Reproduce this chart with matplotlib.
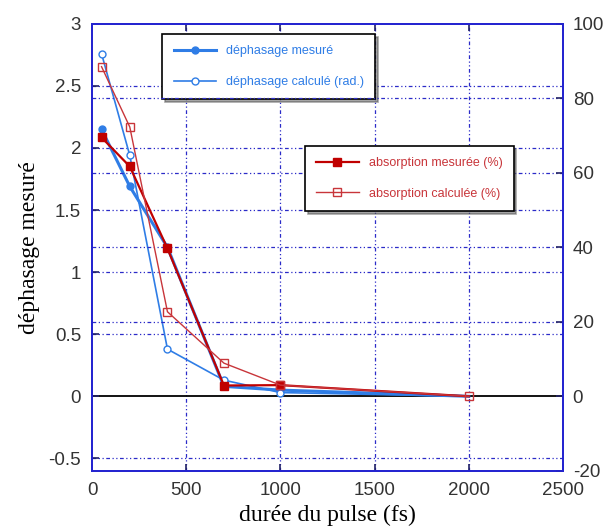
import matplotlib
matplotlib.use("Agg")
import matplotlib.pyplot as plt

plt.rcParams["font.family"] = ["Liberation Sans", "DejaVu Sans"]
plt.rcParams["axes.unicode_minus"] = False

# pulse duration (fs)
durees = [50, 200, 400, 700, 1000, 2000]

# phase shift (rad), left axis
dephasage_mesure = [2.15, 1.69, 1.20, 0.08, 0.05, 0.0]
dephasage_calcule = [2.76, 1.94, 0.38, 0.13, 0.03, 0.0]

# absorption (%), right axis
absorption_mesuree = [69.5, 61.7, 39.7, 2.9, 3.0, 0.0]
absorption_calculee = [88.5, 72.3, 22.7, 8.9, 3.0, 0.0]

x_ticks = [0, 500, 1000, 1500, 2000, 2500]
left_ticks = [-0.5, 0, 0.5, 1, 1.5, 2, 2.5, 3]
right_ticks = [-20, 0, 20, 40, 60, 80, 100]

blue = "#2f7de6"
red_dark = "#c00000"
red = "#c8353a"
frame = "#2323d0"
grid_kw = dict(color="#2b2bc8", linewidth=0.9, linestyle=(0, (3, 2, 1, 2, 1, 2)))

fig = plt.figure(figsize=(6.06, 5.29), dpi=100, facecolor="white")
ax = fig.add_axes([0.152, 0.110, 0.777, 0.845])
ax2 = ax.twinx()

ax.set_xlim(0, 2500)
ax.set_ylim(-0.6, 3.0)
ax2.set_ylim(-20, 100)

ax.set_xticks(x_ticks)
ax.set_yticks(left_ticks)
ax.set_yticklabels(["-0.5", "0", "0.5", "1", "1.5", "2", "2.5", "3"])
ax2.set_yticks(right_ticks)

# grid from both axes
for xv in x_ticks[1:-1]:
    ax.axvline(xv, zorder=0, **grid_kw)
for yv in left_ticks:
    if yv not in (0, 3):
        ax.axhline(yv, zorder=0, **grid_kw)
for yv in right_ticks:
    if yv not in (-20, 0, 100):
        ax2.axhline(yv, zorder=0, **grid_kw)
ax.axhline(0, color="black", linewidth=1.3, zorder=1)

ax.plot(durees, dephasage_mesure, color=blue, linewidth=2.2, marker="o",
        markersize=5, markerfacecolor=blue, markeredgecolor=blue,
        label="déphasage mesuré", markevery=[0, 1, 2, 3, 4])
ax.plot(durees, dephasage_calcule, color=blue, linewidth=1.2, marker="o",
        markersize=5, markerfacecolor="white", markeredgecolor=blue,
        label="déphasage calculé (rad.)", markevery=[0, 1, 2, 3, 4])

ax2.plot(durees, absorption_mesuree, color=red_dark, linewidth=1.6, marker="s",
         markersize=5.5, markerfacecolor=red_dark, markeredgecolor=red_dark,
         label="absorption mesurée (%)", markevery=[0, 1, 2, 3, 4])
ax2.plot(durees, absorption_calculee, color=red, linewidth=1.0, marker="s",
         markersize=5.5, markerfacecolor="none", markeredgecolor=red,
         label="absorption calculée (%)")

for a in (ax, ax2):
    for side in a.spines.values():
        side.set_color(frame)
        side.set_linewidth(1.3)
    a.tick_params(direction="in", length=5, width=1.2, color="#222266",
                  labelsize=13.5, labelcolor="#333333", pad=8)
ax2.tick_params(pad=7)

ax.tick_params(top=True, axis="x")
ax.set_xlabel("durée du pulse (fs)", family="Liberation Serif", fontsize=17,
              labelpad=4)
ax.set_ylabel("déphasage mesuré", family="Liberation Serif", fontsize=17,
              labelpad=6)

leg1 = ax.legend(loc="upper left", bbox_to_anchor=(0.149, 0.977), fontsize=9,
                 frameon=True, fancybox=False, shadow=True, edgecolor="black",
                 labelcolor=blue, handlelength=3.4, borderpad=0.9,
                 labelspacing=1.5, borderaxespad=0)
leg1.get_frame().set_linewidth(1.2)
leg2 = ax2.legend(loc="upper left", bbox_to_anchor=(0.452, 0.727), fontsize=9,
                  frameon=True, fancybox=False, shadow=True, edgecolor="black",
                  labelcolor=red, handlelength=3.4, borderpad=0.9,
                  labelspacing=1.5, borderaxespad=0)
leg2.get_frame().set_linewidth(1.2)

fig.savefig("out.png", dpi=100)
